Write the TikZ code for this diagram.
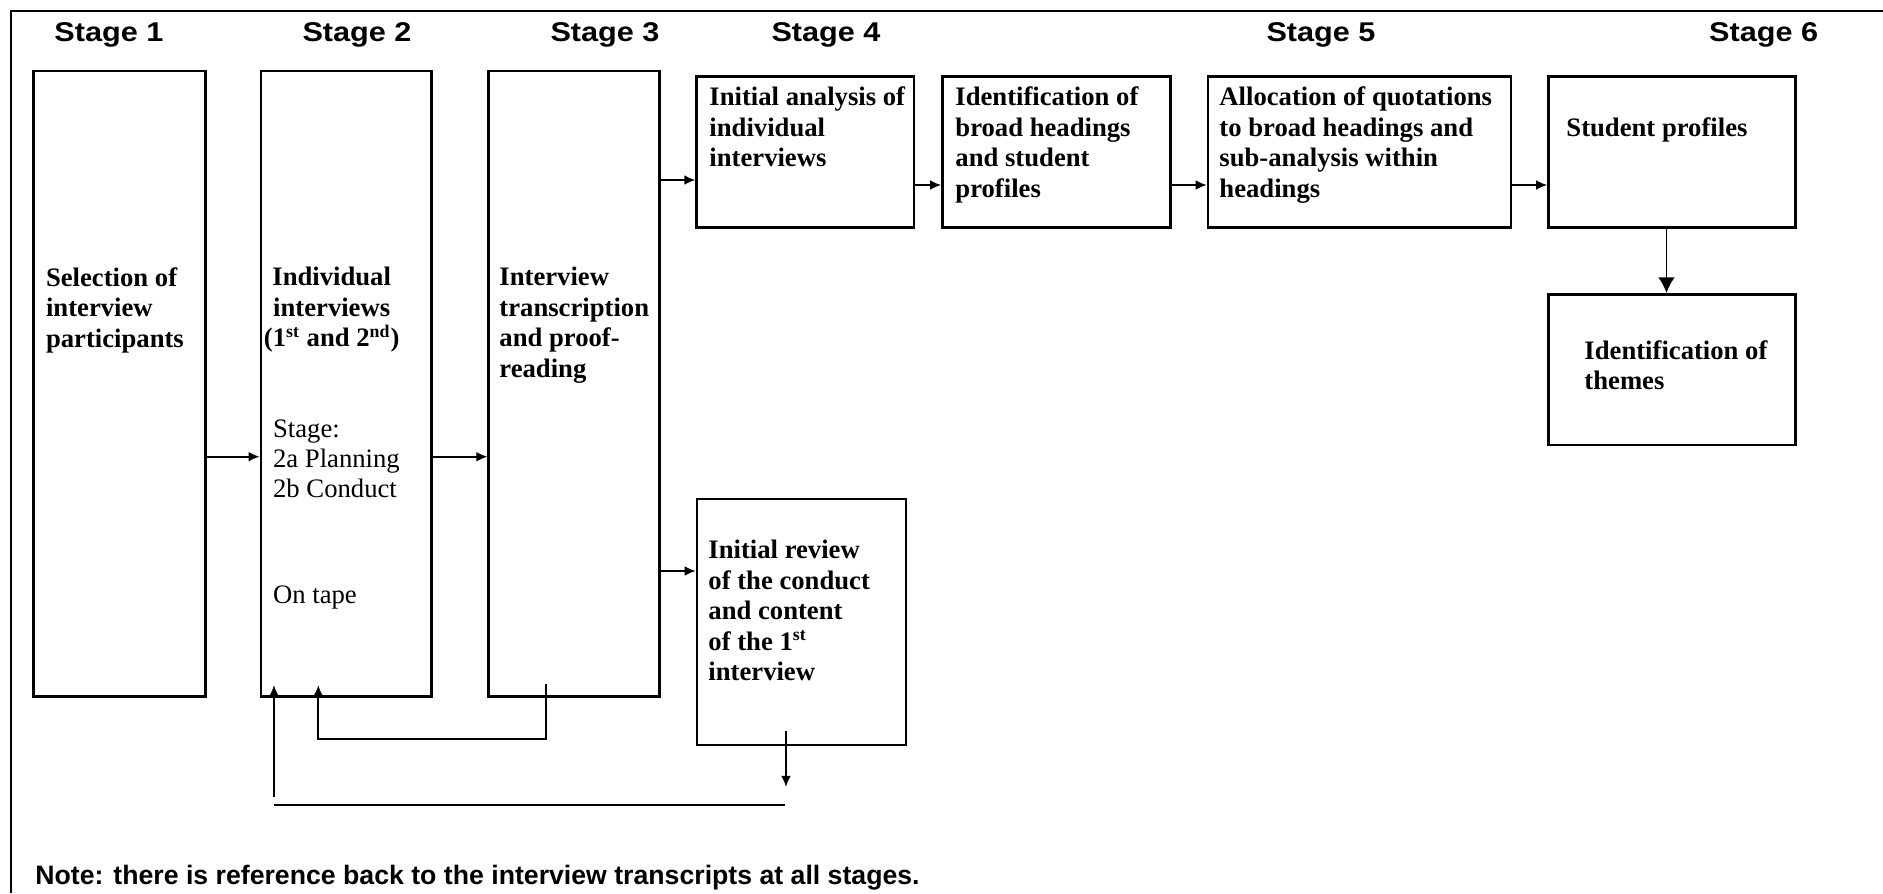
\documentclass[tikz,border=0pt]{standalone}
\usepackage{fontspec}
\setmainfont{Liberation Serif}
\setsansfont{Liberation Sans}
\newfontfamily\stagefont[FakeStretch=1.13]{Liberation Sans}
\usetikzlibrary{arrows.meta,fit}

\begin{document}
\begin{tikzpicture}[x=0.45pt,y=-0.45pt,
	stagebox/.style={draw=black,line width=1.2pt,inner sep=0pt},
	stagelabel/.style={anchor=base,inner sep=0pt,font=\stagefont\bfseries\fontsize{12.2}{14}\selectfont},
	boxtext/.style={anchor=north west,align=left,inner sep=0pt,font=\bfseries\fontsize{12}{13.7}\selectfont},
	plaintext/.style={anchor=north west,align=left,inner sep=0pt,font=\fontsize{12}{13.6}\selectfont},
	arr/.style={-{Latex[length=5pt,width=4.4pt]},line width=0.8pt},
	bigarr/.style={-{Latex[length=7pt,width=7.5pt]},line width=0.8pt}]

	\useasboundingbox (0,0) rectangle (1883,893);
	\draw[line width=1.1pt] (11,893) -- (11,11) -- (1883,11);

	\node[stagelabel] (st1) at (108.9,41)  {Stage 1};
	\node[stagelabel] (st2) at (357,41)    {Stage 2};
	\node[stagelabel] (st3) at (605,41)    {Stage 3};
	\node[stagelabel] (st4) at (826,41)    {Stage 4};
	\node[stagelabel] (st5) at (1321,41)   {Stage 5};
	\node[stagelabel] (st6) at (1763.6,41) {Stage 6};

	\node[stagebox,fit={(33.5,71) (205.4,696.5)}]      (s1) {};
	\node[stagebox,fit={(261,71) (431.5,696.5)}]       (s2) {};
	\node[stagebox,fit={(488.8,71) (659.4,696.5)}]     (s3) {};
	\node[stagebox,fit={(696.7,76.7) (914,227.7)}]     (a4) {};
	\node[stagebox,fit={(697,499) (906,745)}]          (r4) {};
	\node[stagebox,fit={(942.5,76.7) (1170.4,227.7)}]  (h5) {};
	\node[stagebox,fit={(1208,76.7) (1511,227.7)}]     (q5) {};
	\node[stagebox,fit={(1548.6,76.7) (1795.4,227.7)}] (p6) {};
	\node[stagebox,fit={(1548.6,294.3) (1795.4,445)}]  (t6) {};

	\node[boxtext] (s1txt) at (45.6,267) {Selection of\\interview\\participants};
	\node[boxtext,anchor=north,align=center] (s2txt) at (331.7,267) {Individual\\interviews\\(1\textsuperscript{st} and 2\textsuperscript{nd})};
	\node[plaintext] (s2sub) at (272.7,419) {Stage:\\2a Planning\\2b Conduct};
	\node[plaintext] (s2tape) at (272.7,585) {On tape};
	\node[boxtext] (s3txt) at (499,267) {Interview\\transcription\\and proof-\\reading};
	\node[boxtext] (a4txt) at (709,86.5) {Initial analysis of\\individual\\interviews};
	\node[boxtext] (r4txt) at (708,540) {Initial review\\of the conduct\\and content\\of the 1\textsuperscript{st}\\interview};
	\node[boxtext] (h5txt) at (955,86.5) {Identification of\\broad headings\\and student\\profiles};
	\node[boxtext] (q5txt) at (1219,86.5) {Allocation of quotations\\to broad headings and\\sub-analysis within\\headings};
	\node[boxtext] (p6txt) at (1566,117) {Student profiles};
	\node[boxtext] (t6txt) at (1584,340) {Identification of\\themes};

	\node[anchor=base west,inner sep=0pt,font=\sffamily\bfseries\fontsize{12}{14}\selectfont] (note) at (35,884)
		{Note: there is reference back to the interview transcripts at all stages.};

	\draw[arr] (s1.east |- 0,456.7) -- (s2.west |- 0,456.7);
	\draw[arr] (s2.east |- 0,456.7) -- (s3.west |- 0,456.7);
	\draw[arr] (s3.east |- 0,180) -- (a4.west |- 0,180);
	\draw[arr] (s3.east |- 0,571) -- (r4.west |- 0,571);
	\draw[arr] (a4.east |- 0,185) -- (h5.west |- 0,185);
	\draw[arr] (h5.east |- 0,185) -- (q5.west |- 0,185);
	\draw[arr] (q5.east |- 0,185) -- (p6.west |- 0,185);
	\draw[bigarr] (p6.south -| 1666.5,0) -- (t6.north -| 1666.5,0);

	\coordinate (fb1a) at (545.7,684);
	\coordinate (fb1b) at (318.3,739.3);
	\coordinate (fb1c) at (318.3,685);
	\draw[arr] (fb1a) |- (fb1b) -- (fb1c);

	\coordinate (fb2a) at (786,730.7);
	\coordinate (fb2b) at (786,787);
	\coordinate (fb2c) at (274,805);
	\coordinate (fb2d) at (785,805);
	\coordinate (fb2e) at (274,797);
	\coordinate (fb2f) at (274,685);
	\draw[arr] (fb2a) -- (fb2b);
	\draw[line width=1.1pt] (fb2c) -- (fb2d);
	\draw[arr] (fb2e) -- (fb2f);

\end{tikzpicture}
\end{document}
